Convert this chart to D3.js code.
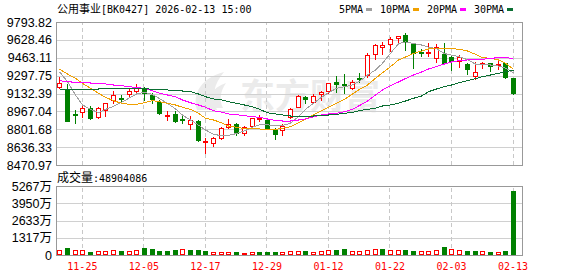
<!DOCTYPE html>
<html>
<head>
<meta charset="utf-8">
<script src="https://cdn.jsdelivr.net/npm/d3@7/dist/d3.min.js"></script>
<style>
body{margin:0;background:#fff;}
svg{display:block;}
</style>
</head>
<body>
<svg id="chart" width="578" height="276"></svg>
<script>
// trading days shown on the chart
var dates = [
  "2025-11-20","2025-11-21","2025-11-24","2025-11-25","2025-11-26","2025-11-27","2025-11-28",
  "2025-12-01","2025-12-02","2025-12-03","2025-12-04","2025-12-05","2025-12-08","2025-12-09",
  "2025-12-10","2025-12-11","2025-12-12","2025-12-15","2025-12-16","2025-12-17","2025-12-18",
  "2025-12-19","2025-12-22","2025-12-23","2025-12-24","2025-12-25","2025-12-26","2025-12-29",
  "2025-12-30","2025-12-31","2026-01-05","2026-01-06","2026-01-07","2026-01-08","2026-01-09",
  "2026-01-12","2026-01-13","2026-01-14","2026-01-15","2026-01-16","2026-01-19","2026-01-20",
  "2026-01-21","2026-01-22","2026-01-23","2026-01-26","2026-01-27","2026-01-28","2026-01-29",
  "2026-01-30","2026-02-02","2026-02-03","2026-02-04","2026-02-05","2026-02-06","2026-02-09",
  "2026-02-10","2026-02-11","2026-02-12","2026-02-13"
];
var open = [9189.7,9164.8,8947.3,8958.4,8995.5,8917.7,8979.7,9072.3,9090.7,9127.7,
  9158.3,9180.5,9121.3,9056.5,8927.0,8942.7,8899.2,8850.2,8880.8,8686.5,
  8671.7,8717.9,8819.7,8847.4,8769.7,8831.7,8895.0,8887.2,8801.2,8794.7,
  8917.7,9010.2,9097.2,9056.5,9127.7,9155.5,9241.5,9217.5,9186.0,9278.5,
  9303.5,9495.0,9565.3,9587.5,9643.0,9673.5,9590.3,9516.3,9513.5,9463.5,
  9495.0,9467.2,9435.8,9405.3,9297.0,9402.5,9417.3,9396.0,9411.7,9273.0];
var high = [9287.8,9220.2,8979.7,9026.0,9016.7,9004.7,9047.3,9158.3,9118.5,9186.0,
  9220.2,9195.3,9134.2,9072.3,8973.2,8967.7,8933.5,8924.2,8887.2,8717.9,
  8732.7,8819.7,8893.7,8856.7,8831.7,8908.5,8933.5,8893.7,8810.4,8850.2,
  8995.5,9115.7,9109.2,9127.7,9155.5,9232.3,9294.2,9312.7,9257.2,9319.2,
  9504.2,9590.3,9606.0,9652.2,9667.0,9689.3,9596.7,9544.0,9596.7,9587.5,
  9596.7,9479.3,9488.5,9411.7,9421.0,9426.5,9419.1,9430.2,9417.3,9278.5];
var low = [9180.5,8878.0,8856.7,8917.7,8899.2,8908.5,8924.2,9047.3,9056.5,9109.2,
  9134.2,9072.3,9047.3,8942.7,8887.2,8871.5,8862.2,8801.2,8695.7,8584.7,
  8646.7,8708.7,8810.4,8748.5,8748.5,8825.2,8878.0,8801.2,8711.5,8748.5,
  8902.9,9004.7,9041.7,9041.7,9072.3,9134.2,9149.0,9139.8,9171.2,9241.5,
  9287.8,9448.7,9495.0,9528.3,9606.0,9534.8,9371.0,9479.3,9482.0,9421.0,
  9405.3,9349.8,9380.3,9312.7,9266.5,9371.0,9343.3,9356.2,9273.0,9127.7];
var close = [9232.3,8880.8,8939.9,8995.5,8908.5,8995.5,9041.7,9115.7,9085.2,9155.5,
  9186.0,9139.8,9084.3,8954.7,8936.2,8880.8,8893.7,8887.2,8702.2,8695.7,
  8717.9,8810.4,8847.4,8764.2,8819.7,8906.0,8902.0,8810.4,8757.7,8831.7,
  8989.0,9109.2,9078.7,9109.2,9146.2,9226.7,9222.0,9208.2,9241.5,9269.3,
  9488.5,9581.0,9578.2,9633.7,9661.5,9611.5,9504.2,9507.0,9519.0,9565.3,
  9411.7,9435.8,9472.8,9359.0,9328.5,9417.3,9389.5,9408.0,9282.2,9139.8];
var volume = [3800000,5580000,3840000,3790000,2310000,3030000,3070000,3830000,3300000,3020000,
  3810000,5620000,4850000,3330000,3280000,3800000,4570000,3840000,3790000,3300000,
  2280000,2320000,2270000,2300000,1780000,2290000,2310000,2260000,2300000,2280000,
  3040000,3060000,3030000,2290000,3050000,3810000,3830000,4590000,3040000,3060000,
  3820000,4560000,4600000,3800000,3840000,3810000,3040000,3020000,3060000,3830000,
  6120000,4570000,3810000,3040000,3060000,3030000,2310000,2280000,3050000,48904086];

var ma5 = [9334.0,9241.5,9118.5,9026.0,8986.2,8955.0,8985.0,9014.0,9050.0,9092.0,
  9128.0,9143.0,9123.0,9085.0,9040.0,8990.0,8932.0,8888.0,8840.0,8795.0,
  8755.0,8742.0,8745.0,8762.0,8786.0,8820.0,8843.0,8843.0,8834.0,8836.0,
  8858.0,8917.7,8986.2,9041.7,9097.2,9139.8,9180.5,9195.3,9212.0,9245.0,
  9303.5,9349.8,9411.7,9504.2,9592.0,9610.0,9595.0,9581.0,9562.0,9545.0,
  9502.0,9487.5,9472.0,9445.0,9405.0,9405.0,9396.0,9386.0,9368.0,9324.0];
var ma10 = [9356.2,9312.8,9273.0,9226.7,9180.5,9134.2,9097.2,9065.8,9041.7,9032.5,
  9032.5,9047.3,9065.8,9056.5,9041.7,9026.0,9004.7,8986.2,8949.2,8903.0,
  8887.2,8862.2,8831.7,8819.7,8806.8,8806.8,8804.0,8801.2,8801.2,8810.4,
  8825.2,8862.2,8893.7,8933.5,8973.2,9004.7,9041.7,9078.7,9127.8,9171.2,
  9211.0,9273.0,9324.8,9380.3,9442.3,9470.0,9504.2,9523.7,9544.0,9553.3,
  9553.3,9546.8,9541.3,9525.5,9495.0,9463.5,9458.0,9442.3,9411.7,9356.2];
var ma20 = [9250.8,9241.5,9236.0,9232.3,9229.5,9226.7,9220.3,9211.0,9204.5,9195.3,
  9186.0,9180.5,9158.3,9134.2,9118.5,9102.8,9072.3,9047.3,9026.0,9004.7,
  8973.2,8961.2,8942.8,8936.3,8927.0,8917.7,8912.2,8896.5,8882.6,8878.0,
  8878.0,8887.2,8896.5,8917.7,8933.5,8942.8,8949.2,8964.0,8986.2,9021.4,
  9063.0,9118.5,9164.8,9204.5,9238.8,9271.1,9303.5,9331.3,9359.0,9382.2,
  9405.3,9423.8,9437.6,9442.3,9442.3,9448.7,9458.0,9463.5,9463.5,9458.0];
var ma30 = [9171.2,9171.2,9174.0,9174.0,9174.0,9174.0,9176.8,9180.5,9180.5,9180.5,
  9180.5,9176.8,9171.2,9164.8,9164.8,9158.3,9155.5,9149.0,9127.8,9102.8,
  9081.5,9072.3,9056.5,9041.7,9026.0,9010.2,8986.2,8954.8,8942.8,8933.5,
  8924.2,8921.5,8921.5,8924.2,8930.7,8933.5,8940.0,8949.2,8958.5,8973.2,
  8986.2,8995.5,9016.7,9026.0,9041.7,9063.0,9088.0,9109.2,9149.0,9174.0,
  9195.3,9211.0,9232.3,9250.8,9269.3,9287.8,9303.5,9319.2,9334.0,9349.8];

var priceTicks = [9793.82,9628.46,9463.11,9297.75,9132.39,8967.04,8801.68,8636.33,8470.97];
var volTicks = [0,1317,2633,3950,5267];   // 万
var dateTicks = ["2025-11-25","2025-12-05","2025-12-17","2025-12-29","2026-01-12","2026-01-22","2026-02-03","2026-02-13"];
var maNames = ["5PMA","10PMA","20PMA","30PMA"];
var maColors = ["#a0a0a0","#f0a000","#ff00ff","#0a6e32"];

var title = ["公用事业","[BK0427] 2026-02-13 15:00"];

var monoFont = "'DejaVu Sans Mono', monospace";
var cjkFont = "'Noto Sans CJK SC', sans-serif";
var axisFont = "'Liberation Sans', 'Noto Sans CJK SC', sans-serif";
var red = "#ff0000", green = "#008000";

var left = 56, right = 522, priceTop = 22, priceBottom = 165, volTop = 186, volBottom = 255;

var svg = d3.select("#chart");

var x = d3.scaleBand().domain(dates).range([left + 0.45, right - 4.15]);
var y = d3.scaleLinear().domain([priceTicks[priceTicks.length-1], priceTicks[0]]).range([priceBottom, priceTop]);
var yv = d3.scaleLinear().domain([0, volTicks[volTicks.length-1]*10000]).range([volBottom, volTop]);
var cx = function(d){ return Math.round(x(d) + x.bandwidth()/2) - 1; };

// watermark
var wm = svg.append("g").attr("fill","#ebebeb");
wm.append("path")
  .attr("d","M197,110 C192,94 201,78 224,72 C214,84 211,96 217,110 Z M208,108 C206,98 212,88 226,83 C220,92 219,100 223,108 Z");
wm.append("text")
  .attr("x",240).attr("y",109)
  .attr("font-family",cjkFont).attr("font-size",35).attr("font-weight","bold")
  .text("东方财富");

// grid lines
var gy = svg.append("g")
  .attr("transform","translate(" + left + ",0)")
  .call(d3.axisLeft(y).tickValues(priceTicks).tickSize(-(right-left)).tickPadding(4).tickFormat(d3.format(".2f")));
gy.select(".domain").remove();
gy.selectAll("line").attr("stroke","#d0d0d0").attr("shape-rendering","crispEdges");
gy.selectAll("text").attr("font-family",axisFont).attr("font-size",12.5).attr("fill","#000");

var gv = svg.append("g")
  .attr("transform","translate(" + left + ",0)")
  .call(d3.axisLeft(yv).tickValues(volTicks.map(function(d){ return d*10000; }))
    .tickSize(-(right-left)).tickPadding(4)
    .tickFormat(function(d){ return d === 0 ? "0" : Math.round(d/10000) + "万"; }));
gv.select(".domain").remove();
gv.selectAll("line").attr("stroke","#d0d0d0").attr("shape-rendering","crispEdges");
gv.selectAll("text").attr("font-family",axisFont).attr("font-size",12.5).attr("fill","#000");

[[priceTop, priceBottom],[volTop, volBottom]].forEach(function(p){
  var g = svg.append("g")
    .attr("transform","translate(-1," + p[1] + ")")
    .call(d3.axisBottom(x).tickValues(dateTicks).tickSize(-(p[1]-p[0])).tickFormat(""));
  g.select(".domain").remove();
  g.selectAll("line").attr("stroke","#c8c8c8").attr("stroke-dasharray","4,3").attr("shape-rendering","crispEdges");
});

// frames
[[priceTop, priceBottom],[volTop, volBottom]].forEach(function(p){
  svg.append("rect")
    .attr("x", left + 0.5).attr("y", p[0] + 0.5)
    .attr("width", right-left).attr("height", p[1]-p[0])
    .attr("fill","none").attr("stroke","#999").attr("shape-rendering","crispEdges");
});

// x labels
var gx = svg.append("g")
  .attr("transform","translate(-1," + volBottom + ")")
  .call(d3.axisBottom(x).tickValues(dateTicks).tickSize(0).tickPadding(8)
    .tickFormat(function(d){ return d.slice(5); }));
gx.select(".domain").remove();
gx.selectAll("text").attr("font-family",monoFont).attr("font-size",10).attr("fill",red);

// candles
var candle = svg.append("g").selectAll("g").data(dates).enter().append("g");
candle.append("line")
  .attr("x1",function(d){ return cx(d) + 0.5; })
  .attr("x2",function(d){ return cx(d) + 0.5; })
  .attr("y1",function(d,i){ return Math.round(y(high[i])); })
  .attr("y2",function(d,i){ return Math.round(y(low[i])) + 1; })
  .attr("stroke",function(d,i){ return close[i] >= open[i] ? red : green; })
  .attr("shape-rendering","crispEdges");
candle.append("rect")
  .each(function(d,i){
    var up = close[i] >= open[i];
    var top = Math.round(y(Math.max(open[i], close[i])));
    var bot = Math.round(y(Math.min(open[i], close[i])));
    var h = Math.max(bot - top, 1);
    var r = d3.select(this).attr("shape-rendering","crispEdges");
    if (up) {
      r.attr("x", cx(d) - 1.5).attr("y", top + 0.5).attr("width", 4).attr("height", h)
       .attr("fill", "#fff").attr("stroke", red);
    } else {
      r.attr("x", cx(d) - 2).attr("y", top).attr("width", 5).attr("height", h + 1)
       .attr("fill", green);
    }
  });

// moving averages
[ma5, ma10, ma20, ma30].forEach(function(ma, k){
  var line = d3.line()
    .x(function(d,i){ return cx(dates[i]) + 0.5; })
    .y(function(d){ return y(d); });
  svg.append("path")
    .datum(ma)
    .attr("d", line)
    .attr("fill","none")
    .attr("stroke", maColors[k])
    .attr("stroke-width",1)
    .attr("shape-rendering","crispEdges");
});

// volume bars
svg.append("g").selectAll("rect").data(dates).enter().append("rect")
  .each(function(d,i){
    var up = i === 0 ? close[i] >= open[i] : close[i] >= close[i-1];
    var top = Math.round(yv(volume[i]));
    var r = d3.select(this).attr("shape-rendering","crispEdges");
    if (up) {
      r.attr("x", cx(d) - 1.5).attr("y", top + 0.5).attr("width", 4).attr("height", volBottom - top - 1)
       .attr("fill","#fff").attr("stroke", red);
    } else {
      r.attr("x", cx(d) - 2).attr("y", top).attr("width", 5).attr("height", volBottom - top)
       .attr("fill", green);
    }
  });

// title
var t = svg.append("text").attr("x", 57).attr("y", 12.5).attr("fill","#000");
t.append("tspan").attr("font-family",cjkFont).attr("font-size",11).text(title[0]);
t.append("tspan").attr("font-family",monoFont).attr("font-size",10).text(title[1]);

// legend
var lx = 339;
maNames.forEach(function(name, k){
  var txt = svg.append("text")
    .attr("x", lx).attr("y", 12.5)
    .attr("font-family", monoFont).attr("font-size", 10).attr("fill","#000")
    .text(name);
  var w = txt.node().getComputedTextLength();
  svg.append("rect")
    .attr("x", Math.round(lx + w + 3)).attr("y", 8)
    .attr("width", 6).attr("height", 3)
    .attr("fill", maColors[k]);
  lx = Math.round(lx + w + 3) + 6 + 8;
});

// volume caption
var vc = svg.append("text").attr("x", 57).attr("y", 181.5).attr("fill","#000");
vc.append("tspan").attr("font-family",cjkFont).attr("font-size",12).text("成交量");
vc.append("tspan").attr("font-family",monoFont).attr("font-size",10).text(":" + volume[volume.length-1]);
</script>
</body>
</html>
